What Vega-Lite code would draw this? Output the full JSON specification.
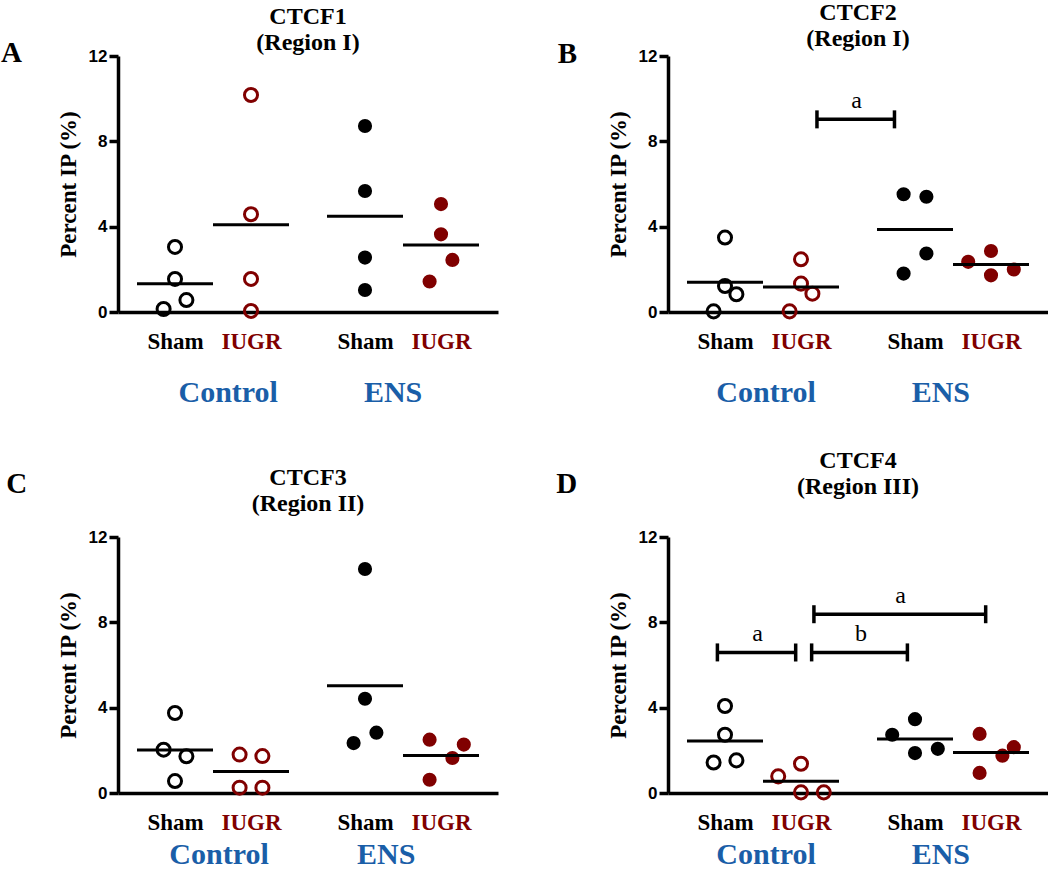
{
  "$schema": "https://vega.github.io/schema/vega-lite/v6.json",
  "padding": 0,
  "background": "white",
  "datasets": {
    "pts": [
      {"panel":"A","group":"Control","treatment":"Sham","pos":1,"xj":0.85,"value":0.14},
      {"panel":"A","group":"Control","treatment":"Sham","pos":1,"xj":1.15,"value":0.56},
      {"panel":"A","group":"Control","treatment":"Sham","pos":1,"xj":1.0,"value":1.55},
      {"panel":"A","group":"Control","treatment":"Sham","pos":1,"xj":1.0,"value":3.05},
      {"panel":"A","group":"Control","treatment":"IUGR","pos":2,"xj":2.0,"value":0.05},
      {"panel":"A","group":"Control","treatment":"IUGR","pos":2,"xj":2.0,"value":1.55},
      {"panel":"A","group":"Control","treatment":"IUGR","pos":2,"xj":2.0,"value":4.58},
      {"panel":"A","group":"Control","treatment":"IUGR","pos":2,"xj":2.0,"value":10.17},
      {"panel":"A","group":"ENS","treatment":"Sham","pos":3.5,"xj":3.5,"value":1.03},
      {"panel":"A","group":"ENS","treatment":"Sham","pos":3.5,"xj":3.5,"value":2.55},
      {"panel":"A","group":"ENS","treatment":"Sham","pos":3.5,"xj":3.5,"value":5.67},
      {"panel":"A","group":"ENS","treatment":"Sham","pos":3.5,"xj":3.5,"value":8.72},
      {"panel":"A","group":"ENS","treatment":"IUGR","pos":4.5,"xj":4.35,"value":1.43},
      {"panel":"A","group":"ENS","treatment":"IUGR","pos":4.5,"xj":4.65,"value":2.44},
      {"panel":"A","group":"ENS","treatment":"IUGR","pos":4.5,"xj":4.5,"value":3.64},
      {"panel":"A","group":"ENS","treatment":"IUGR","pos":4.5,"xj":4.5,"value":5.06},

      {"panel":"B","group":"Control","treatment":"Sham","pos":1,"xj":0.85,"value":0.03},
      {"panel":"B","group":"Control","treatment":"Sham","pos":1,"xj":1.15,"value":0.83},
      {"panel":"B","group":"Control","treatment":"Sham","pos":1,"xj":1.0,"value":1.22},
      {"panel":"B","group":"Control","treatment":"Sham","pos":1,"xj":1.0,"value":3.49},
      {"panel":"B","group":"Control","treatment":"IUGR","pos":2,"xj":1.85,"value":0.03},
      {"panel":"B","group":"Control","treatment":"IUGR","pos":2,"xj":2.15,"value":0.86},
      {"panel":"B","group":"Control","treatment":"IUGR","pos":2,"xj":2.0,"value":1.33},
      {"panel":"B","group":"Control","treatment":"IUGR","pos":2,"xj":2.0,"value":2.47},
      {"panel":"B","group":"ENS","treatment":"Sham","pos":3.5,"xj":3.35,"value":1.8},
      {"panel":"B","group":"ENS","treatment":"Sham","pos":3.5,"xj":3.65,"value":2.74},
      {"panel":"B","group":"ENS","treatment":"Sham","pos":3.5,"xj":3.35,"value":5.52},
      {"panel":"B","group":"ENS","treatment":"Sham","pos":3.5,"xj":3.65,"value":5.4},
      {"panel":"B","group":"ENS","treatment":"IUGR","pos":4.5,"xj":4.5,"value":1.72},
      {"panel":"B","group":"ENS","treatment":"IUGR","pos":4.5,"xj":4.8,"value":1.99},
      {"panel":"B","group":"ENS","treatment":"IUGR","pos":4.5,"xj":4.2,"value":2.35},
      {"panel":"B","group":"ENS","treatment":"IUGR","pos":4.5,"xj":4.5,"value":2.86},

      {"panel":"C","group":"Control","treatment":"Sham","pos":1,"xj":1.0,"value":3.75},
      {"panel":"C","group":"Control","treatment":"Sham","pos":1,"xj":0.85,"value":2.03},
      {"panel":"C","group":"Control","treatment":"Sham","pos":1,"xj":1.15,"value":1.72},
      {"panel":"C","group":"Control","treatment":"Sham","pos":1,"xj":1.0,"value":0.56},
      {"panel":"C","group":"Control","treatment":"IUGR","pos":2,"xj":1.85,"value":1.8},
      {"panel":"C","group":"Control","treatment":"IUGR","pos":2,"xj":2.15,"value":1.73},
      {"panel":"C","group":"Control","treatment":"IUGR","pos":2,"xj":1.85,"value":0.25},
      {"panel":"C","group":"Control","treatment":"IUGR","pos":2,"xj":2.15,"value":0.25},
      {"panel":"C","group":"ENS","treatment":"Sham","pos":3.5,"xj":3.5,"value":10.5},
      {"panel":"C","group":"ENS","treatment":"Sham","pos":3.5,"xj":3.5,"value":4.42},
      {"panel":"C","group":"ENS","treatment":"Sham","pos":3.5,"xj":3.65,"value":2.83},
      {"panel":"C","group":"ENS","treatment":"Sham","pos":3.5,"xj":3.35,"value":2.34},
      {"panel":"C","group":"ENS","treatment":"IUGR","pos":4.5,"xj":4.35,"value":2.5},
      {"panel":"C","group":"ENS","treatment":"IUGR","pos":4.5,"xj":4.8,"value":2.27},
      {"panel":"C","group":"ENS","treatment":"IUGR","pos":4.5,"xj":4.65,"value":1.64},
      {"panel":"C","group":"ENS","treatment":"IUGR","pos":4.5,"xj":4.35,"value":0.62},

      {"panel":"D","group":"Control","treatment":"Sham","pos":1,"xj":1.0,"value":4.08},
      {"panel":"D","group":"Control","treatment":"Sham","pos":1,"xj":1.0,"value":2.73},
      {"panel":"D","group":"Control","treatment":"Sham","pos":1,"xj":0.85,"value":1.43},
      {"panel":"D","group":"Control","treatment":"Sham","pos":1,"xj":1.15,"value":1.53},
      {"panel":"D","group":"Control","treatment":"IUGR","pos":2,"xj":2.0,"value":1.37},
      {"panel":"D","group":"Control","treatment":"IUGR","pos":2,"xj":1.7,"value":0.78},
      {"panel":"D","group":"Control","treatment":"IUGR","pos":2,"xj":2.0,"value":0.03},
      {"panel":"D","group":"Control","treatment":"IUGR","pos":2,"xj":2.3,"value":0.03},
      {"panel":"D","group":"ENS","treatment":"Sham","pos":3.5,"xj":3.2,"value":2.73},
      {"panel":"D","group":"ENS","treatment":"Sham","pos":3.5,"xj":3.5,"value":3.46},
      {"panel":"D","group":"ENS","treatment":"Sham","pos":3.5,"xj":3.5,"value":1.87},
      {"panel":"D","group":"ENS","treatment":"Sham","pos":3.5,"xj":3.8,"value":2.07},
      {"panel":"D","group":"ENS","treatment":"IUGR","pos":4.5,"xj":4.35,"value":2.77},
      {"panel":"D","group":"ENS","treatment":"IUGR","pos":4.5,"xj":4.8,"value":2.15},
      {"panel":"D","group":"ENS","treatment":"IUGR","pos":4.5,"xj":4.65,"value":1.75},
      {"panel":"D","group":"ENS","treatment":"IUGR","pos":4.5,"xj":4.35,"value":0.94}
    ],
    "groups": [
      {"panel":"A","group":"Control","gx":1.7},
      {"panel":"A","group":"ENS","gx":3.87},
      {"panel":"B","group":"Control","gx":1.54},
      {"panel":"B","group":"ENS","gx":3.84},
      {"panel":"C","group":"Control","gx":1.58},
      {"panel":"C","group":"ENS","gx":3.78},
      {"panel":"D","group":"Control","gx":1.54},
      {"panel":"D","group":"ENS","gx":3.84}
    ],
    "heads": [
      {"panel":"A","title":"CTCF1\n(Region I)","letter":"A"},
      {"panel":"B","title":"CTCF2\n(Region I)","letter":"B"},
      {"panel":"C","title":"CTCF3\n(Region II)","letter":"C"},
      {"panel":"D","title":"CTCF4\n(Region III)","letter":"D"}
    ],
    "brk": [
      {"panel":"B","x1":2.21,"x2":3.23,"y":9.03,"lx":2.73,"label":"a"},
      {"panel":"D","x1":0.9,"x2":1.93,"y":6.59,"lx":1.43,"label":"a"},
      {"panel":"D","x1":2.14,"x2":3.4,"y":6.59,"lx":2.79,"label":"b"},
      {"panel":"D","x1":2.17,"x2":4.43,"y":8.38,"lx":3.31,"label":"a"}
    ]
  },
  "config": {
    "view": {"stroke": null},
    "axis": {"domainColor": "#000000", "domainWidth": 3.5, "tickColor": "#000000", "tickWidth": 3.5, "grid": false, "labelColor": "#000000", "titleColor": "#000000"},
    "axisY": {"tickSize": 9, "labelPadding": 2, "labelFont": "Liberation Sans", "labelFontWeight": "bold", "labelFontSize": 17, "titleFont": "Liberation Serif", "titleFontWeight": "bold", "titleFontSize": 23, "titlePadding": 8},
    "axisX": {"ticks": false, "tickSize": 0, "labelFont": "Liberation Serif", "labelFontWeight": "bold", "labelFontSize": 23, "labelPadding": 36, "labelBaseline": "alphabetic", "labelFlush": false, "labelOverlap": false}
  },
  "columns": 2,
  "spacing": {"row": 40, "column": 58},
  "concat": [
    {
      "width": 380, "height": 256,
      "layer": [
        {"data": {"name": "pts"}, "transform": [{"filter": "datum.panel==='A' && datum.group==='Control'"}],
         "mark": {"type": "point", "shape": "circle", "filled": false, "size": 170, "strokeWidth": 3, "opacity": 1},
         "encoding": {
           "x": {"field": "xj", "type": "quantitative", "title": null, "scale": {"domain": [0.25, 5.25], "nice": false, "zero": false},
                 "axis": {"values": [1, 2, 3.5, 4.5], "labelExpr": "datum.value===1||datum.value===3.5?'Sham':'IUGR'", "labelColor": {"condition": {"test": "datum.value===2||datum.value===4.5", "value": "#800000"}, "value": "#000000"}}},
           "y": {"field": "value", "type": "quantitative", "title": "Percent IP (%)", "scale": {"domain": [0, 12], "nice": false}, "axis": {"values": [0, 4, 8, 12]}},
           "color": {"field": "treatment", "type": "nominal", "scale": {"domain": ["Sham", "IUGR"], "range": ["#000000", "#800000"]}, "legend": null}
         }},
        {"data": {"name": "pts"}, "transform": [{"filter": "datum.panel==='A' && datum.group==='ENS'"}],
         "mark": {"type": "point", "shape": "circle", "filled": true, "size": 200, "opacity": 1},
         "encoding": {
           "x": {"field": "xj", "type": "quantitative", "title": null},
           "y": {"field": "value", "type": "quantitative", "title": "Percent IP (%)"},
           "color": {"field": "treatment", "type": "nominal", "legend": null}
         }},
        {"data": {"name": "pts"}, "transform": [{"filter": "datum.panel==='A'"}],
         "mark": {"type": "tick", "orient": "horizontal", "size": 76, "thickness": 3, "color": "#000000", "opacity": 1},
         "encoding": {
           "x": {"field": "pos", "type": "quantitative", "title": null},
           "y": {"aggregate": "mean", "field": "value", "type": "quantitative", "title": "Percent IP (%)"}
         }},
        {"data": {"name": "groups"}, "transform": [{"filter": "datum.panel==='A'"}],
         "mark": {"type": "text", "font": "Liberation Serif", "fontWeight": "bold", "fontSize": 30, "color": "#1a5ea8", "baseline": "alphabetic", "align": "center"},
         "encoding": {"x": {"field": "gx", "type": "quantitative", "title": null}, "y": {"datum": -4.22}, "text": {"field": "group"}}},
        {"data": {"name": "heads"}, "transform": [{"filter": "datum.panel==='A'"}],
         "mark": {"type": "text", "font": "Liberation Serif", "fontWeight": "bold", "fontSize": 24, "lineHeight": 26, "lineBreak": "\n", "baseline": "alphabetic", "align": "center", "color": "#000000"},
         "encoding": {"x": {"datum": 2.75}, "y": {"datum": 13.5}, "text": {"field": "title"}}},
        {"data": {"name": "heads"}, "transform": [{"filter": "datum.panel==='A'"}],
         "mark": {"type": "text", "font": "Liberation Serif", "fontWeight": "bold", "fontSize": 29, "baseline": "alphabetic", "align": "left", "color": "#000000"},
         "encoding": {"x": {"datum": -1.29}, "y": {"datum": 11.72}, "text": {"field": "letter"}}}
      ]
    },
    {
      "width": 380, "height": 256,
      "layer": [
        {"data": {"name": "pts"}, "transform": [{"filter": "datum.panel==='B' && datum.group==='Control'"}],
         "mark": {"type": "point", "shape": "circle", "filled": false, "size": 170, "strokeWidth": 3, "opacity": 1},
         "encoding": {
           "x": {"field": "xj", "type": "quantitative", "title": null, "scale": {"domain": [0.25, 5.25], "nice": false, "zero": false},
                 "axis": {"values": [1, 2, 3.5, 4.5], "labelExpr": "datum.value===1||datum.value===3.5?'Sham':'IUGR'", "labelColor": {"condition": {"test": "datum.value===2||datum.value===4.5", "value": "#800000"}, "value": "#000000"}}},
           "y": {"field": "value", "type": "quantitative", "title": "Percent IP (%)", "scale": {"domain": [0, 12], "nice": false}, "axis": {"values": [0, 4, 8, 12]}},
           "color": {"field": "treatment", "type": "nominal", "scale": {"domain": ["Sham", "IUGR"], "range": ["#000000", "#800000"]}, "legend": null}
         }},
        {"data": {"name": "pts"}, "transform": [{"filter": "datum.panel==='B' && datum.group==='ENS'"}],
         "mark": {"type": "point", "shape": "circle", "filled": true, "size": 200, "opacity": 1},
         "encoding": {
           "x": {"field": "xj", "type": "quantitative", "title": null},
           "y": {"field": "value", "type": "quantitative", "title": "Percent IP (%)"},
           "color": {"field": "treatment", "type": "nominal", "legend": null}
         }},
        {"data": {"name": "pts"}, "transform": [{"filter": "datum.panel==='B'"}],
         "mark": {"type": "tick", "orient": "horizontal", "size": 76, "thickness": 3, "color": "#000000", "opacity": 1},
         "encoding": {
           "x": {"field": "pos", "type": "quantitative", "title": null},
           "y": {"aggregate": "mean", "field": "value", "type": "quantitative", "title": "Percent IP (%)"}
         }},
        {"data": {"name": "brk"}, "transform": [{"filter": "datum.panel==='B'"}],
         "mark": {"type": "rule", "strokeWidth": 3.5, "color": "#000000"},
         "encoding": {"x": {"field": "x1", "type": "quantitative", "title": null}, "x2": {"field": "x2"}, "y": {"field": "y", "type": "quantitative", "title": "Percent IP (%)"}}},
        {"data": {"name": "brk"}, "transform": [{"filter": "datum.panel==='B'"}],
         "mark": {"type": "tick", "orient": "vertical", "size": 18, "thickness": 3.5, "color": "#000000", "opacity": 1},
         "encoding": {"x": {"field": "x1", "type": "quantitative", "title": null}, "y": {"field": "y", "type": "quantitative", "title": "Percent IP (%)"}}},
        {"data": {"name": "brk"}, "transform": [{"filter": "datum.panel==='B'"}],
         "mark": {"type": "tick", "orient": "vertical", "size": 18, "thickness": 3.5, "color": "#000000", "opacity": 1},
         "encoding": {"x": {"field": "x2", "type": "quantitative", "title": null}, "y": {"field": "y", "type": "quantitative", "title": "Percent IP (%)"}}},
        {"data": {"name": "brk"}, "transform": [{"filter": "datum.panel==='B'"}],
         "mark": {"type": "text", "font": "Liberation Serif", "fontSize": 24, "baseline": "alphabetic", "align": "center", "dy": -11, "color": "#000000"},
         "encoding": {"x": {"field": "lx", "type": "quantitative", "title": null}, "y": {"field": "y", "type": "quantitative", "title": "Percent IP (%)"}, "text": {"field": "label"}}},
        {"data": {"name": "groups"}, "transform": [{"filter": "datum.panel==='B'"}],
         "mark": {"type": "text", "font": "Liberation Serif", "fontWeight": "bold", "fontSize": 30, "color": "#1a5ea8", "baseline": "alphabetic", "align": "center"},
         "encoding": {"x": {"field": "gx", "type": "quantitative", "title": null}, "y": {"datum": -4.22}, "text": {"field": "group"}}},
        {"data": {"name": "heads"}, "transform": [{"filter": "datum.panel==='B'"}],
         "mark": {"type": "text", "font": "Liberation Serif", "fontWeight": "bold", "fontSize": 24, "lineHeight": 26, "lineBreak": "\n", "baseline": "alphabetic", "align": "center", "color": "#000000"},
         "encoding": {"x": {"datum": 2.75}, "y": {"datum": 13.69}, "text": {"field": "title"}}},
        {"data": {"name": "heads"}, "transform": [{"filter": "datum.panel==='B'"}],
         "mark": {"type": "text", "font": "Liberation Serif", "fontWeight": "bold", "fontSize": 29, "baseline": "alphabetic", "align": "left", "color": "#000000"},
         "encoding": {"x": {"datum": -1.2}, "y": {"datum": 11.67}, "text": {"field": "letter"}}}
      ]
    },
    {
      "width": 380, "height": 256,
      "layer": [
        {"data": {"name": "pts"}, "transform": [{"filter": "datum.panel==='C' && datum.group==='Control'"}],
         "mark": {"type": "point", "shape": "circle", "filled": false, "size": 170, "strokeWidth": 3, "opacity": 1},
         "encoding": {
           "x": {"field": "xj", "type": "quantitative", "title": null, "scale": {"domain": [0.25, 5.25], "nice": false, "zero": false},
                 "axis": {"values": [1, 2, 3.5, 4.5], "labelExpr": "datum.value===1||datum.value===3.5?'Sham':'IUGR'", "labelColor": {"condition": {"test": "datum.value===2||datum.value===4.5", "value": "#800000"}, "value": "#000000"}}},
           "y": {"field": "value", "type": "quantitative", "title": "Percent IP (%)", "scale": {"domain": [0, 12], "nice": false}, "axis": {"values": [0, 4, 8, 12]}},
           "color": {"field": "treatment", "type": "nominal", "scale": {"domain": ["Sham", "IUGR"], "range": ["#000000", "#800000"]}, "legend": null}
         }},
        {"data": {"name": "pts"}, "transform": [{"filter": "datum.panel==='C' && datum.group==='ENS'"}],
         "mark": {"type": "point", "shape": "circle", "filled": true, "size": 200, "opacity": 1},
         "encoding": {
           "x": {"field": "xj", "type": "quantitative", "title": null},
           "y": {"field": "value", "type": "quantitative", "title": "Percent IP (%)"},
           "color": {"field": "treatment", "type": "nominal", "legend": null}
         }},
        {"data": {"name": "pts"}, "transform": [{"filter": "datum.panel==='C'"}],
         "mark": {"type": "tick", "orient": "horizontal", "size": 76, "thickness": 3, "color": "#000000", "opacity": 1},
         "encoding": {
           "x": {"field": "pos", "type": "quantitative", "title": null},
           "y": {"aggregate": "mean", "field": "value", "type": "quantitative", "title": "Percent IP (%)"}
         }},
        {"data": {"name": "groups"}, "transform": [{"filter": "datum.panel==='C'"}],
         "mark": {"type": "text", "font": "Liberation Serif", "fontWeight": "bold", "fontSize": 30, "color": "#1a5ea8", "baseline": "alphabetic", "align": "center"},
         "encoding": {"x": {"field": "gx", "type": "quantitative", "title": null}, "y": {"datum": -3.35}, "text": {"field": "group"}}},
        {"data": {"name": "heads"}, "transform": [{"filter": "datum.panel==='C'"}],
         "mark": {"type": "text", "font": "Liberation Serif", "fontWeight": "bold", "fontSize": 24, "lineHeight": 26, "lineBreak": "\n", "baseline": "alphabetic", "align": "center", "color": "#000000"},
         "encoding": {"x": {"datum": 2.75}, "y": {"datum": 14.44}, "text": {"field": "title"}}},
        {"data": {"name": "heads"}, "transform": [{"filter": "datum.panel==='C'"}],
         "mark": {"type": "text", "font": "Liberation Serif", "fontWeight": "bold", "fontSize": 29, "baseline": "alphabetic", "align": "left", "color": "#000000"},
         "encoding": {"x": {"datum": -1.22}, "y": {"datum": 14.06}, "text": {"field": "letter"}}}
      ]
    },
    {
      "width": 380, "height": 256,
      "layer": [
        {"data": {"name": "pts"}, "transform": [{"filter": "datum.panel==='D' && datum.group==='Control'"}],
         "mark": {"type": "point", "shape": "circle", "filled": false, "size": 170, "strokeWidth": 3, "opacity": 1},
         "encoding": {
           "x": {"field": "xj", "type": "quantitative", "title": null, "scale": {"domain": [0.25, 5.25], "nice": false, "zero": false},
                 "axis": {"values": [1, 2, 3.5, 4.5], "labelExpr": "datum.value===1||datum.value===3.5?'Sham':'IUGR'", "labelColor": {"condition": {"test": "datum.value===2||datum.value===4.5", "value": "#800000"}, "value": "#000000"}}},
           "y": {"field": "value", "type": "quantitative", "title": "Percent IP (%)", "scale": {"domain": [0, 12], "nice": false}, "axis": {"values": [0, 4, 8, 12]}},
           "color": {"field": "treatment", "type": "nominal", "scale": {"domain": ["Sham", "IUGR"], "range": ["#000000", "#800000"]}, "legend": null}
         }},
        {"data": {"name": "pts"}, "transform": [{"filter": "datum.panel==='D' && datum.group==='ENS'"}],
         "mark": {"type": "point", "shape": "circle", "filled": true, "size": 200, "opacity": 1},
         "encoding": {
           "x": {"field": "xj", "type": "quantitative", "title": null},
           "y": {"field": "value", "type": "quantitative", "title": "Percent IP (%)"},
           "color": {"field": "treatment", "type": "nominal", "legend": null}
         }},
        {"data": {"name": "pts"}, "transform": [{"filter": "datum.panel==='D'"}],
         "mark": {"type": "tick", "orient": "horizontal", "size": 76, "thickness": 3, "color": "#000000", "opacity": 1},
         "encoding": {
           "x": {"field": "pos", "type": "quantitative", "title": null},
           "y": {"aggregate": "mean", "field": "value", "type": "quantitative", "title": "Percent IP (%)"}
         }},
        {"data": {"name": "brk"}, "transform": [{"filter": "datum.panel==='D'"}],
         "mark": {"type": "rule", "strokeWidth": 3.5, "color": "#000000"},
         "encoding": {"x": {"field": "x1", "type": "quantitative", "title": null}, "x2": {"field": "x2"}, "y": {"field": "y", "type": "quantitative", "title": "Percent IP (%)"}}},
        {"data": {"name": "brk"}, "transform": [{"filter": "datum.panel==='D'"}],
         "mark": {"type": "tick", "orient": "vertical", "size": 18, "thickness": 3.5, "color": "#000000", "opacity": 1},
         "encoding": {"x": {"field": "x1", "type": "quantitative", "title": null}, "y": {"field": "y", "type": "quantitative", "title": "Percent IP (%)"}}},
        {"data": {"name": "brk"}, "transform": [{"filter": "datum.panel==='D'"}],
         "mark": {"type": "tick", "orient": "vertical", "size": 18, "thickness": 3.5, "color": "#000000", "opacity": 1},
         "encoding": {"x": {"field": "x2", "type": "quantitative", "title": null}, "y": {"field": "y", "type": "quantitative", "title": "Percent IP (%)"}}},
        {"data": {"name": "brk"}, "transform": [{"filter": "datum.panel==='D'"}],
         "mark": {"type": "text", "font": "Liberation Serif", "fontSize": 24, "baseline": "alphabetic", "align": "center", "dy": -11, "color": "#000000"},
         "encoding": {"x": {"field": "lx", "type": "quantitative", "title": null}, "y": {"field": "y", "type": "quantitative", "title": "Percent IP (%)"}, "text": {"field": "label"}}},
        {"data": {"name": "groups"}, "transform": [{"filter": "datum.panel==='D'"}],
         "mark": {"type": "text", "font": "Liberation Serif", "fontWeight": "bold", "fontSize": 30, "color": "#1a5ea8", "baseline": "alphabetic", "align": "center"},
         "encoding": {"x": {"field": "gx", "type": "quantitative", "title": null}, "y": {"datum": -3.35}, "text": {"field": "group"}}},
        {"data": {"name": "heads"}, "transform": [{"filter": "datum.panel==='D'"}],
         "mark": {"type": "text", "font": "Liberation Serif", "fontWeight": "bold", "fontSize": 24, "lineHeight": 26, "lineBreak": "\n", "baseline": "alphabetic", "align": "center", "color": "#000000"},
         "encoding": {"x": {"datum": 2.75}, "y": {"datum": 15.23}, "text": {"field": "title"}}},
        {"data": {"name": "heads"}, "transform": [{"filter": "datum.panel==='D'"}],
         "mark": {"type": "text", "font": "Liberation Serif", "fontWeight": "bold", "fontSize": 29, "baseline": "alphabetic", "align": "left", "color": "#000000"},
         "encoding": {"x": {"datum": -1.22}, "y": {"datum": 14.06}, "text": {"field": "letter"}}}
      ]
    }
  ]
}
